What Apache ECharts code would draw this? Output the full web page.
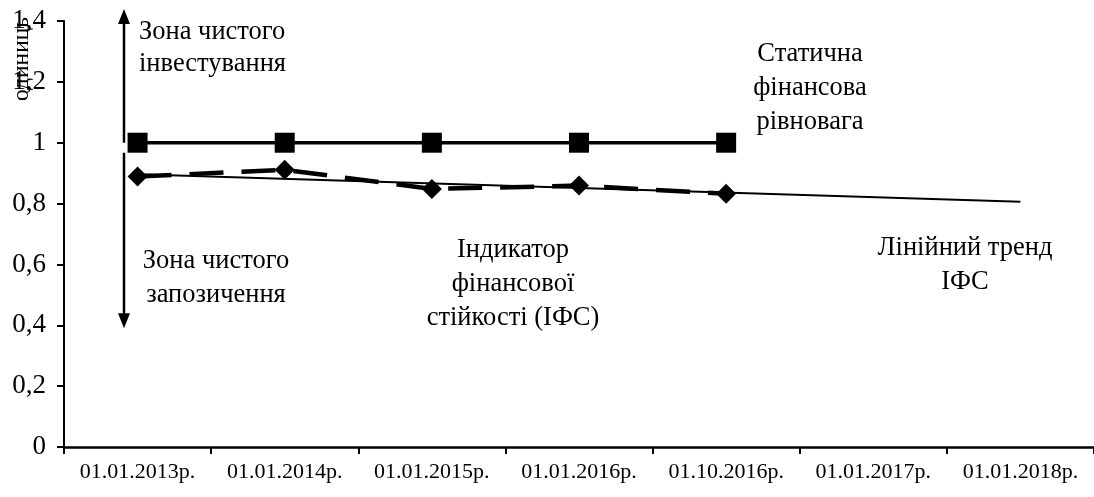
<!DOCTYPE html>
<html>
<head>
<meta charset="utf-8">
<script src="https://cdn.jsdelivr.net/npm/echarts@6/dist/echarts.min.js"></script>
<style>html,body{margin:0;padding:0;background:#fff;}#c{width:1094px;height:497px;}</style>
</head>
<body>
<div id="c"></div>
<script>
const categories = ['01.01.2013р.', '01.01.2014р.', '01.01.2015р.', '01.01.2016р.', '01.10.2016р.', '01.01.2017р.', '01.01.2018р.'];
const equilibrium = [1, 1, 1, 1, 1, null, null];
const ifs = [0.889, 0.911, 0.848, 0.859, 0.832, null, null];
const trend = [0.896, null, null, null, null, null, 0.806];
const yTickLabels = ['0', '0,2', '0,4', '0,6', '0,8', '1', '1,2', '1,4'];
const yAxisName = 'одиниць';

const FONT = 'Liberation Serif';
const chart = echarts.init(document.getElementById('c'), null, {renderer: 'canvas'});

const option = {
  animation: false,
  backgroundColor: '#fff',
  grid: {left: 64, right: 0, top: 21, bottom: 50, containLabel: false},
  xAxis: {
    type: 'category',
    data: categories,
    boundaryGap: true,
    axisLine: {show: true, lineStyle: {color: '#000', width: 2.5}},
    axisTick: {show: true, length: 7, lineStyle: {color: '#000', width: 2}},
    axisLabel: {color: '#000', fontFamily: FONT, fontSize: 22, margin: 14, interval: 0}
  },
  yAxis: {
    type: 'value',
    min: 0, max: 1.4, interval: 0.2,
    splitLine: {show: false},
    axisLine: {show: true, lineStyle: {color: '#000', width: 2}},
    axisTick: {show: true, length: 7, lineStyle: {color: '#000', width: 2}},
    axisLabel: {
      color: '#000', fontFamily: FONT, fontSize: 27, margin: 18,
      formatter: v => yTickLabels[Math.round(v / 0.2)]
    }
  },
  series: [
    {
      name: 'trend', type: 'line', data: trend, connectNulls: true,
      symbol: 'none', lineStyle: {color: '#000', width: 2}, z: 2
    },
    {
      name: 'ІФС', type: 'line', data: ifs,
      symbol: 'diamond', symbolSize: 20,
      itemStyle: {color: '#000'},
      lineStyle: {color: '#000', width: 4.5, type: [34, 18]}, z: 3
    },
    {
      name: 'equilibrium', type: 'line', data: equilibrium,
      symbol: 'rect', symbolSize: 20,
      itemStyle: {color: '#000', borderRadius: 2},
      lineStyle: {color: '#000', width: 3.5}, z: 4
    }
  ]
};
chart.setOption(option);

function txt(x, y, text, align, lh) {
  return {
    type: 'text', x: x, y: y, z: 10,
    style: {text: text, fill: '#000', font: '26.5px "' + FONT + '"',
      align: align || 'center', verticalAlign: 'middle', lineHeight: lh || 34}
  };
}

const yPx = v => chart.convertToPixel({yAxisIndex: 0}, v);
const ax = 124;
const yTop = 9, yOne = yPx(1), yLow = yPx(0.39);
const graphic = [
  {type: 'line', shape: {x1: ax, y1: yOne, x2: ax, y2: yTop + 12}, style: {stroke: '#000', lineWidth: 2.5}},
  {type: 'polygon', shape: {points: [[ax, yTop], [ax - 6, yTop + 15], [ax + 6, yTop + 15]]}, style: {fill: '#000'}},
  {type: 'line', shape: {x1: ax, y1: yOne + 10, x2: ax, y2: yLow - 12}, style: {stroke: '#000', lineWidth: 2.5}},
  {type: 'polygon', shape: {points: [[ax, yLow], [ax - 6, yLow - 15], [ax + 6, yLow - 15]]}, style: {fill: '#000'}},
  txt(139, 48, 'Зона чистого\nінвестування', 'left', 32),
  txt(216, 278, 'Зона чистого\nзапозичення'),
  txt(810, 88, 'Статична\nфінансова\nрівновага'),
  txt(513, 284, 'Індикатор\nфінансової\nстійкості (ІФС)'),
  txt(965, 265, 'Лінійний тренд\nІФС'),
  {
    type: 'text', x: 22, y: 59, rotation: Math.PI / 2, z: 10,
    style: {text: yAxisName, fill: '#000', font: '23.5px "' + FONT + '"', align: 'center', verticalAlign: 'middle'}
  }
];
chart.setOption({graphic: graphic});
</script>
</body>
</html>
